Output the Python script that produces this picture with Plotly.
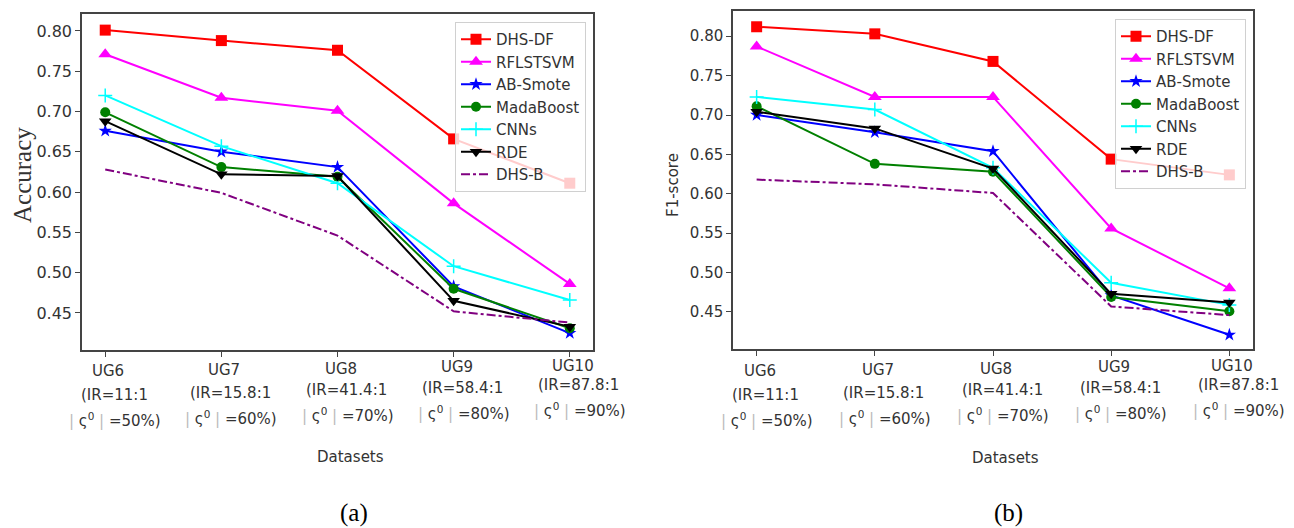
import plotly.graph_objects as go

W, H = 1294, 528

datasets = ["UG6", "UG7", "UG8", "UG9", "UG10"]
ir_labels = ["IR=11:1", "IR=15.8:1", "IR=41.4:1", "IR=58.4:1", "IR=87.8:1"]
pct_labels = ["50%", "60%", "70%", "80%", "90%"]

methods = ["DHS-DF", "RFLSTSVM", "AB-Smote", "MadaBoost", "CNNs", "RDE", "DHS-B"]

accuracy = {
    "DHS-DF":    [0.801, 0.788, 0.776, 0.666, 0.611],
    "RFLSTSVM":  [0.771, 0.717, 0.701, 0.586, 0.486],
    "AB-Smote":  [0.676, 0.650, 0.631, 0.483, 0.425],
    "MadaBoost": [0.699, 0.631, 0.619, 0.480, 0.431],
    "CNNs":      [0.720, 0.657, 0.611, 0.508, 0.466],
    "RDE":       [0.688, 0.622, 0.620, 0.465, 0.433],
    "DHS-B":     [0.628, 0.599, 0.546, 0.452, 0.438],
}

f1score = {
    "DHS-DF":    [0.812, 0.803, 0.768, 0.644, 0.624],
    "RFLSTSVM":  [0.787, 0.723, 0.723, 0.556, 0.480],
    "AB-Smote":  [0.700, 0.678, 0.654, 0.471, 0.421],
    "MadaBoost": [0.711, 0.638, 0.628, 0.469, 0.451],
    "CNNs":      [0.723, 0.707, 0.633, 0.487, 0.459],
    "RDE":       [0.704, 0.683, 0.632, 0.473, 0.462],
    "DHS-B":     [0.618, 0.612, 0.601, 0.457, 0.446],
}

yticks = [0.45, 0.50, 0.55, 0.60, 0.65, 0.70, 0.75, 0.80]

styles = {
    "DHS-DF":    dict(color="#ff0000", symbol="square", size=11, dash="solid", mode="lines+markers"),
    "RFLSTSVM":  dict(color="#ff00ff", symbol="triangle-up", size=12, dash="solid", mode="lines+markers"),
    "AB-Smote":  dict(color="#0000ff", symbol="star", size=10, dash="solid", mode="lines+markers"),
    "MadaBoost": dict(color="#008000", symbol="circle", size=10, dash="solid", mode="lines+markers"),
    "CNNs":      dict(color="#00ffff", symbol="cross-thin", size=10, dash="solid", mode="lines+markers"),
    "RDE":       dict(color="#000000", symbol="triangle-down", size=11, dash="solid", mode="lines+markers"),
    "DHS-B":     dict(color="#800080", symbol="circle", size=1, dash="dashdot", mode="lines"),
}

TXT = "#333333"
SANS = "DejaVu Sans"
SERIF = "Liberation Serif"

fig = go.Figure()

for data, xa, ya, lg in [(accuracy, "x", "y", "legend"), (f1score, "x2", "y2", "legend2")]:
    for m in methods:
        s = styles[m]
        marker = dict(color=s["color"], symbol=s["symbol"], size=s["size"])
        if s["symbol"] == "cross-thin":
            marker["line"] = dict(color=s["color"], width=1.5)
        fig.add_trace(go.Scatter(
            x=datasets, y=data[m], name=m, mode=s["mode"],
            line=dict(color=s["color"], width=2, dash=s["dash"]),
            marker=marker, xaxis=xa, yaxis=ya, legend=lg,
        ))

def px_x(p):
    return p / W

def px_y(p):
    return 1 - p / H

axis_common = dict(
    showgrid=False, zeroline=False, showline=True, mirror=True,
    linecolor="#444444", linewidth=1.5, ticks="outside", ticklen=5,
    tickcolor="#444444", tickwidth=1,
)

fig.update_layout(
    width=W, height=H,
    margin=dict(l=0, r=0, t=0, b=0),
    paper_bgcolor="white", plot_bgcolor="white",
    font=dict(family=SANS, size=15, color=TXT),
    xaxis=dict(domain=[px_x(82), px_x(593)], type="category", range=[-0.2, 4.2],
               showticklabels=False, anchor="y", **axis_common),
    yaxis=dict(domain=[px_y(350), px_y(14)], range=[0.404, 0.821], tickvals=yticks,
               tickformat=".2f", anchor="x", tickfont=dict(size=16, color=TXT), **axis_common),
    xaxis2=dict(domain=[px_x(733), px_x(1253)], type="category", range=[-0.2, 4.2],
                showticklabels=False, anchor="y2", **axis_common),
    yaxis2=dict(domain=[px_y(349), px_y(11)], range=[0.403, 0.832], tickvals=yticks,
                tickformat=".2f", anchor="x2", tickfont=dict(size=15, color=TXT), **axis_common),
    legend=dict(x=px_x(586), xanchor="right", y=px_y(22), yanchor="top",
                bgcolor="rgba(255,255,255,0.8)", bordercolor="#d0d0d0", borderwidth=1,
                font=dict(family=SANS, size=15, color=TXT)),
    legend2=dict(x=px_x(1246), xanchor="right", y=px_y(19), yanchor="top",
                 bgcolor="rgba(255,255,255,0.8)", bordercolor="#d0d0d0", borderwidth=1,
                 font=dict(family=SANS, size=15, color=TXT)),
)

annotations = []
bar = '<span style="color:#bbbbbb">|</span>'
for xa in ["x", "x2"]:
    for i, (d, ir, pc) in enumerate(zip(datasets, ir_labels, pct_labels)):
        stag = -1.2 * i
        lines = [
            (d, 371 + stag, 3),
            ("(" + ir, 395 + stag * 2, 9),
            (bar + " ς<sup>0</sup> " + bar + " =" + pc + ")", 420 + stag * 2, 10),
        ]
        for txt, py, xs in lines:
            annotations.append(dict(
                x=d, xref=xa, y=px_y(py), yref="paper", text=txt, showarrow=False,
                xanchor="center", yanchor="middle", xshift=xs,
                font=dict(family=SANS, size=15, color=TXT),
            ))

def label(x, y, text, font, angle=0):
    return dict(x=px_x(x), y=px_y(y), xref="paper", yref="paper", text=text,
                showarrow=False, xanchor="center", yanchor="middle",
                textangle=angle, font=font)

annotations += [
    label(350, 457, "Datasets", dict(family=SANS, size=15, color=TXT)),
    label(1005, 458, "Datasets", dict(family=SANS, size=15, color=TXT)),
    label(22, 175, "Accuracy", dict(family=SERIF, size=25, color=TXT), -90),
    label(673, 185, "F1-score", dict(family=SANS, size=15, color=TXT), -90),
    label(354, 513, "(a)", dict(family=SERIF, size=25, color="#000000")),
    label(1008, 513, "(b)", dict(family=SERIF, size=25, color="#000000")),
]

fig.update_layout(annotations=annotations)

fig.write_html("out.html", config={"displayModeBar": False},
               post_script="document.body.style.margin='0px';")
